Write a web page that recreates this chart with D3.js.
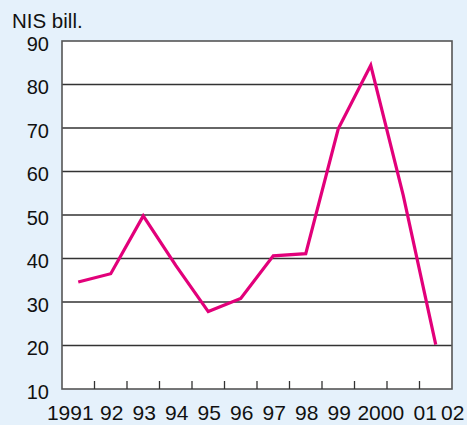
<!DOCTYPE html>
<html>
<head>
<meta charset="utf-8">
<script src="https://cdn.jsdelivr.net/npm/d3@7"></script>
<style>
  body { margin: 0; background: #e5f1fb; }
  svg { display: block; font-family: "Liberation Sans", Arial, sans-serif; }
</style>
</head>
<body>
<div id="container"></div>
<script>
/* Constants and globals */
const width = 467,
    height = 425,
    margin = {top: 41, left: 62, bottom: 36, right: 15};

/* DATA */
const years = ["1991", "92", "93", "94", "95", "96", "97", "98", "99", "2000", "01", "02"];
const values = [34.6, 36.5, 49.8, 38.4, 27.8, 30.8, 40.6, 41.1, 69.8, 84.4, 54.5, 20.2];
const yTicks = [10, 20, 30, 40, 50, 60, 70, 80, 90];

// the original shifts a few long/edge labels sideways so they don't collide
const labelNudge = {"1991": -9, "2000": 9, "01": 21, "02": 16};

/* SCALES */
// one band per year, the line goes through the middle of each band
const xScale = d3.scaleBand()
  .domain(years)
  .range([margin.left, width - margin.right])
  .paddingInner(0).paddingOuter(0);

const yScale = d3.scaleLinear()
  .domain([10, 90])
  .range([height - margin.bottom, margin.top]);

/* SVG */
const svg = d3.select("#container")
  .append("svg")
  .attr("width", width)
  .attr("height", height);

svg.append("rect")
  .attr("width", width).attr("height", height)
  .attr("fill", "#e5f1fb");

// plot area
svg.append("rect")
  .attr("x", margin.left)
  .attr("y", margin.top)
  .attr("width", width - margin.left - margin.right)
  .attr("height", height - margin.top - margin.bottom)
  .attr("fill", "#ffffff");

// gridlines
svg.append("g")
  .selectAll("line")
  .data(yTicks.filter(d => d > 10 && d < 90))
  .join("line")
  .attr("x1", margin.left)
  .attr("x2", width - margin.right)
  .attr("y1", d => yScale(d))
  .attr("y2", d => yScale(d))
  .attr("stroke", "#333")
  .attr("stroke-width", 1.3);

// frame
svg.append("rect")
  .attr("x", margin.left)
  .attr("y", margin.top)
  .attr("width", width - margin.left - margin.right)
  .attr("height", height - margin.top - margin.bottom)
  .attr("fill", "none")
  .attr("stroke", "#555")
  .attr("stroke-width", 1.6);

// y labels
svg.append("g")
  .selectAll("text")
  .data(yTicks)
  .join("text")
  .attr("x", 49)
  .attr("y", d => yScale(d) + 9.7)
  .attr("text-anchor", "end")
  .attr("font-size", 20)
  .attr("fill", "#111")
  .text(d => d);

// x ticks, pointing up at the band edges
svg.append("g")
  .selectAll("line")
  .data(years.slice(1))
  .join("line")
  .attr("x1", d => xScale(d))
  .attr("x2", d => xScale(d))
  .attr("y1", height - margin.bottom)
  .attr("y2", height - margin.bottom - 8)
  .attr("stroke", "#333")
  .attr("stroke-width", 1.3);

// x labels
svg.append("g")
  .selectAll("text")
  .data(years)
  .join("text")
  .attr("x", d => xScale(d) + xScale.bandwidth() / 2 + 1 + (labelNudge[d] || 0))
  .attr("y", 420)
  .attr("text-anchor", "middle")
  .attr("font-size", 21)
  .attr("fill", "#111")
  .text(d => d);

// unit label
svg.append("text")
  .attr("x", 12)
  .attr("y", 28)
  .attr("font-size", 20.5)
  .attr("fill", "#111")
  .text("NIS bill.");

// line
const line = d3.line()
  .x((d, i) => xScale(years[i]) + xScale.bandwidth() / 2)
  .y(d => yScale(d));

svg.append("path")
  .datum(values)
  .attr("d", line)
  .attr("fill", "none")
  .attr("stroke", "#e2007a")
  .attr("stroke-width", 3.2)
  .attr("stroke-linejoin", "miter");
</script>
</body>
</html>
